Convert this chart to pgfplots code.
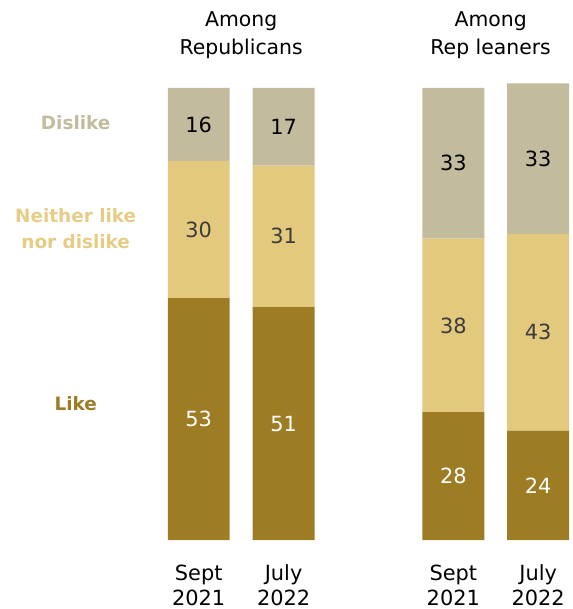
\documentclass[border=0pt]{standalone}
\usepackage{pgfplots}
\pgfplotsset{compat=1.18}
\usepackage{fontspec}
\setmainfont{DejaVu Sans}
\definecolor{like}{RGB}{157,124,35}
\definecolor{neither}{RGB}{227,201,126}
\definecolor{dislike}{RGB}{194,187,158}
\definecolor{neitherlab}{RGB}{230,204,133}
\definecolor{numgray}{RGB}{60,60,60}
\tikzset{
  num/.style={font=\fontsize{21}{24}\selectfont},
  lab/.style={font=\fontsize{18.5}{27}\selectfont\bfseries, align=center},
  ttl/.style={font=\fontsize{20.5}{28}\selectfont, align=center},
}
\begin{document}
\begin{tikzpicture}
\begin{axis}[
  at={(168bp,68bp)}, anchor=south west,
  scale only axis, width=405bp, height=453bp,
  xmin=-0.365, xmax=4.4, ymin=0, ymax=99,
  ybar stacked, bar width=62bp,
  axis line style={draw=none}, major tick length=0pt,
  ytick=\empty,
  xtick={0,1,3,4},
  xticklabels={{Sept\\2021},{July\\2022},{Sept\\2021},{July\\2022}},
  xticklabel style={align=center, anchor=north, yshift=-21bp, font=\fontsize{21}{25}\selectfont},
  clip=false,
]
\addplot[fill=like, draw=none] coordinates {(0,53) (1,51) (3,28) (4,24)};
\addplot[fill=neither, draw=none] coordinates {(0,30) (1,31) (3,38) (4,43)};
\addplot[fill=dislike, draw=none] coordinates {(0,16) (1,17) (3,33) (4,33)};
\coordinate (l1) at (axis cs:0,26.5);
\coordinate (l2) at (axis cs:1,25.5);
\coordinate (l3) at (axis cs:3,14);
\coordinate (l4) at (axis cs:4,12);
\coordinate (n1) at (axis cs:0,68);
\coordinate (n2) at (axis cs:1,66.5);
\coordinate (n3) at (axis cs:3,47);
\coordinate (n4) at (axis cs:4,45.5);
\coordinate (d1) at (axis cs:0,91);
\coordinate (d2) at (axis cs:1,90.5);
\coordinate (d3) at (axis cs:3,82.5);
\coordinate (d4) at (axis cs:4,83.5);
\node[lab, dislike] at (axis cs:-1.45,91.3) {Dislike};
\node[lab, neitherlab] at (axis cs:-1.45,68.2) {Neither like\\nor dislike};
\node[lab, like] at (axis cs:-1.45,29.9) {Like};
\node[ttl] at (axis cs:0.5,110.6) {Among\\Republicans};
\node[ttl] at (axis cs:3.44,110.6) {Among\\Rep leaners};
\end{axis}
\node[num, white] at (l1) {53};
\node[num, white] at (l2) {51};
\node[num, white] at (l3) {28};
\node[num, white] at (l4) {24};
\node[num, numgray] at (n1) {30};
\node[num, numgray] at (n2) {31};
\node[num, numgray] at (n3) {38};
\node[num, numgray] at (n4) {43};
\node[num, black] at (d1) {16};
\node[num, black] at (d2) {17};
\node[num, black] at (d3) {33};
\node[num, black] at (d4) {33};
\path[use as bounding box] (0,0) rectangle (573bp,609bp);
\end{tikzpicture}
\end{document}
